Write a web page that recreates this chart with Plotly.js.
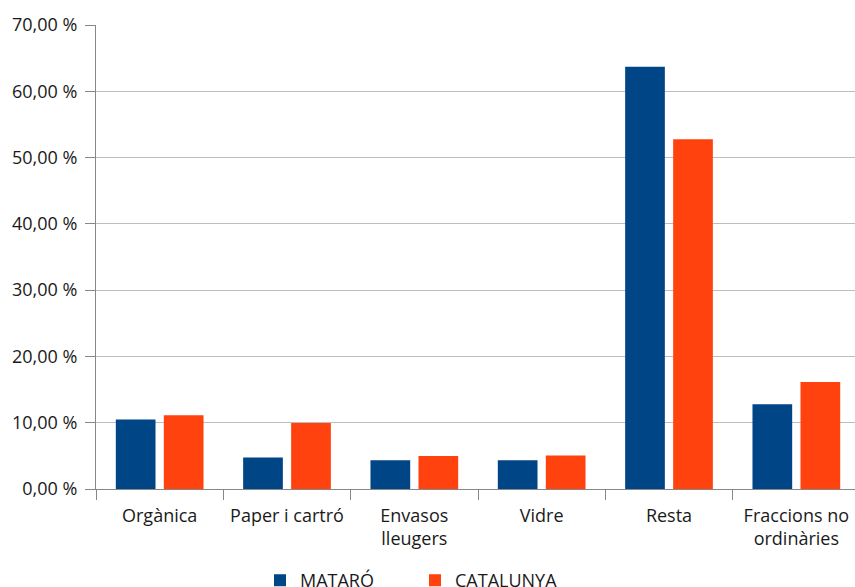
<!DOCTYPE html>
<html><head><meta charset="utf-8">
<script src="https://cdn.plot.ly/plotly-3.0.1.min.js"></script>
<style>html,body{margin:0;padding:0;overflow:hidden;background:#fff;width:855px;height:587px}</style>
</head><body><div id="chart"></div>
<script>
const categories = ["Orgànica", "Paper i cartró", "Envasos<br>lleugers", "Vidre", "Resta", "Fraccions no<br>ordinàries"];
const mataro = [10.48, 4.74, 4.33, 4.33, 63.7, 12.79];
const catalunya = [11.13, 9.97, 4.98, 5.04, 52.75, 16.15];
const yTickVals = [0, 10, 20, 30, 40, 50, 60, 70];
const yTickText = ["0,00 %", "10,00 %", "20,00 %", "30,00 %", "40,00 %", "50,00 %", "60,00 %", "70,00 %"];

const font = {family: "Open Sans, sans-serif", size: 18, color: "#1a1a1a"};
const data = [
  {type: "bar", name: "MATARÓ", x: categories, y: mataro, marker: {color: "#004586"}},
  {type: "bar", name: "CATALUNYA", x: categories, y: catalunya, marker: {color: "#ff420e"}}
];
const layout = {
  width: 860, height: 587,
  margin: {l: 96, r: 0, t: 25, b: 98},
  paper_bgcolor: "#fff", plot_bgcolor: "#fff",
  font: font,
  barmode: "group", bargap: 0.246, bargroupgap: 0.173,
  xaxis: {type: "category", tickson: "boundaries", ticks: "outside", ticklen: 10, tickcolor: "#888",
          showline: true, linecolor: "#888", showgrid: false, tickfont: font, ticklabelstandoff: 10},
  yaxis: {range: [0, 70], tickvals: yTickVals, ticktext: yTickText, ticks: "outside", ticklen: 10,
          tickcolor: "#888", showline: true, linecolor: "#888", gridcolor: "#bdbdbd", gridwidth: 1,
          zeroline: false, tickfont: font, ticklabelstandoff: 4},
  showlegend: true,
  legend: {orientation: "h", xref: "container", xanchor: "left", yref: "container", y: 0.011, yanchor: "middle",
           font: font, entrywidth: 110, entrywidthmode: "pixels", traceorder: "normal"}
};
layout.legend.x = 260/860;
Plotly.newPlot("chart", data, layout, {displayModeBar: false, staticPlot: true});
</script></body></html>
